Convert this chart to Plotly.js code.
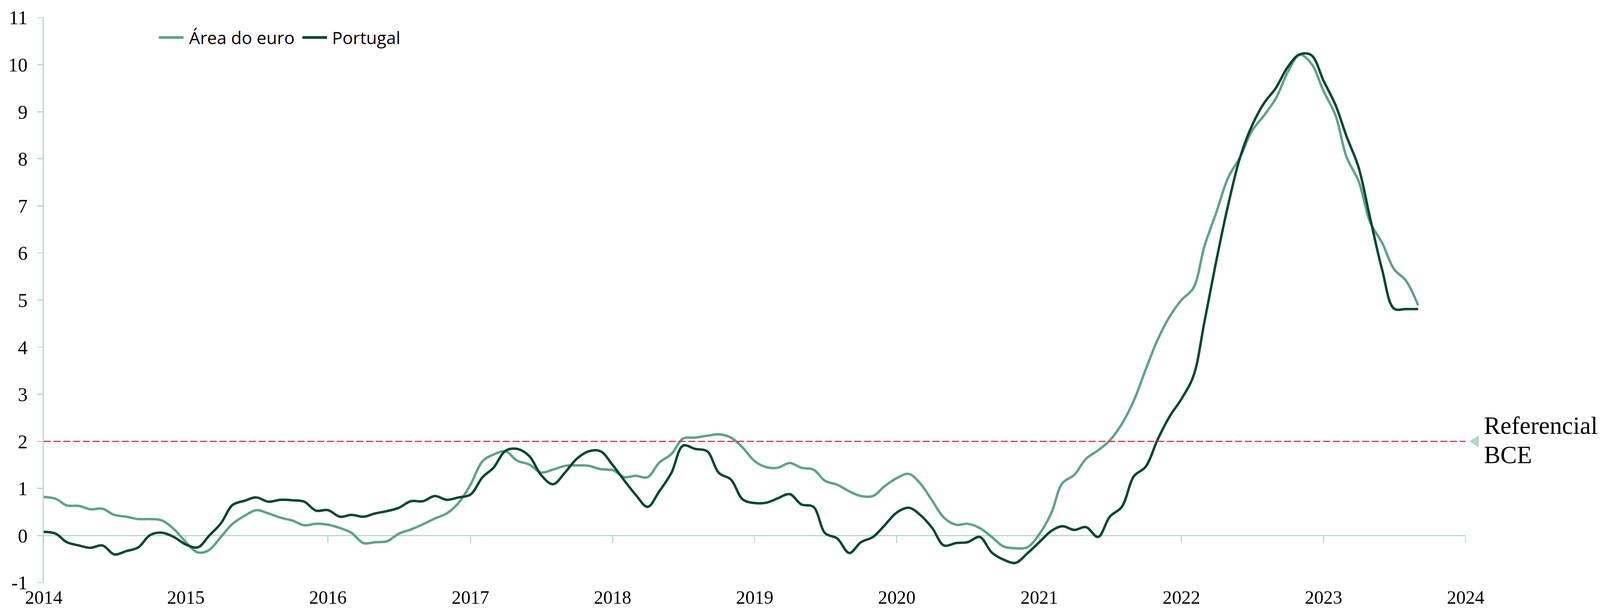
<!DOCTYPE html>
<html>
<head>
<meta charset="utf-8">
<script src="https://cdn.plot.ly/plotly-3.0.1.min.js"></script>
<style>
  html, body { margin: 0; padding: 0; background: #ffffff; overflow: hidden; }
  #chart { width: 100vw; height: 100vh; }
</style>
</head>
<body>
<div id="chart"></div>
<script>
// ---- data (monthly, Jan 2014 - Sep 2023) ----
const years = [2014, 2015, 2016, 2017, 2018, 2019, 2020, 2021, 2022, 2023];

const euroArea = [
  0.82, 0.78, 0.64, 0.63, 0.56, 0.57, 0.44, 0.40, 0.35, 0.35, 0.32, 0.14,   // 2014
  -0.14, -0.36, -0.31, -0.03, 0.25, 0.42, 0.54, 0.47, 0.38, 0.32, 0.22, 0.25, // 2015
  0.23, 0.16, 0.06, -0.16, -0.14, -0.12, 0.04, 0.13, 0.24, 0.36, 0.47, 0.69, // 2016
  1.08, 1.58, 1.72, 1.79, 1.59, 1.51, 1.34, 1.40, 1.48, 1.49, 1.48, 1.41,   // 2017
  1.39, 1.24, 1.27, 1.24, 1.55, 1.73, 2.06, 2.08, 2.12, 2.15, 2.08, 1.87,   // 2018
  1.58, 1.45, 1.44, 1.54, 1.44, 1.40, 1.16, 1.08, 0.94, 0.84, 0.84, 1.05,   // 2019
  1.22, 1.31, 1.11, 0.74, 0.38, 0.23, 0.25, 0.16, -0.03, -0.23, -0.27, -0.25, // 2020
  0.03, 0.48, 1.11, 1.29, 1.63, 1.81, 2.02, 2.37, 2.87, 3.52, 4.16, 4.64,   // 2021
  5.00, 5.26, 6.14, 6.87, 7.60, 8.04, 8.59, 8.92, 9.29, 9.84, 10.21, 10.02, // 2022
  9.44, 8.92, 8.04, 7.53, 6.65, 6.21, 5.66, 5.41, 4.89                      // 2023
];

const portugal = [
  0.08, 0.04, -0.14, -0.21, -0.26, -0.21, -0.40, -0.33, -0.25, 0.01, 0.06, -0.03, // 2014
  -0.19, -0.25, -0.01, 0.26, 0.65, 0.74, 0.81, 0.72, 0.76, 0.75, 0.72, 0.53,      // 2015
  0.54, 0.40, 0.44, 0.40, 0.47, 0.52, 0.59, 0.73, 0.73, 0.84, 0.76, 0.81,         // 2016
  0.87, 1.24, 1.44, 1.80, 1.84, 1.69, 1.29, 1.09, 1.34, 1.63, 1.79, 1.79,         // 2017
  1.50, 1.16, 0.87, 0.61, 0.94, 1.33, 1.91, 1.84, 1.79, 1.33, 1.19, 0.77,         // 2018
  0.69, 0.70, 0.79, 0.88, 0.66, 0.61, 0.05, -0.06, -0.37, -0.14, -0.03, 0.22,     // 2019
  0.49, 0.59, 0.44, 0.16, -0.21, -0.16, -0.14, -0.03, -0.36, -0.51, -0.58, -0.38, // 2020
  -0.14, 0.10, 0.20, 0.12, 0.18, -0.03, 0.40, 0.61, 1.26, 1.46, 2.04, 2.52,       // 2021
  2.90, 3.39, 4.53, 5.85, 7.02, 8.04, 8.70, 9.18, 9.51, 9.95, 10.22, 10.20,       // 2022
  9.66, 9.14, 8.48, 7.82, 6.73, 5.63, 4.82, 4.81, 4.81                            // 2023
];

const seriesNames = ['Área do euro', 'Portugal'];
const seriesColors = ['#5fa28a', '#05472f'];

const tickYears = ['2014', '2015', '2016', '2017', '2018', '2019', '2020', '2021', '2022', '2023', '2024'];
const tickDates = tickYears.map(y => y + '-01-01');
const yTickVals = [-1, 0, 1, 2, 3, 4, 5, 6, 7, 8, 9, 10, 11];
const yTickText = ['-1', '0', '1', '2', '3', '4', '5', '6', '7', '8', '9', '10', '11'];

const targetLabel = ['Referencial', 'BCE'];
const targetValue = 2;
const targetX = ['2014-01-01', '2024-01-01'];
const targetY = [targetValue, targetValue];

// monthly dates
const dates = [];
for (let i = 0; i < euroArea.length; i++) {
  const y = years[0] + Math.floor(i / 12);
  const m = (i % 12) + 1;
  dates.push(y + '-' + String(m).padStart(2, '0') + '-01');
}

// size to the actual window (design frame 4603 x 1562)
const W = window.innerWidth || 4603;
const H = window.innerHeight || 1562;
const sx = W / 4603, sy = H / 1562, sf = Math.min(sx, sy);

const axisColor = '#b7d8cc';
const serif = 'Liberation Serif, Times New Roman, serif';
const sans = 'Open Sans, Noto Sans, sans-serif';

// plot area in design frame
const L = 126, R = 387, T = 45, B = 70;
const plotW = 4603 - L - R, plotH = 1562 - T - B;
const px = v => (v - L) / plotW;          // design x -> paper x
const py = v => (1562 - B - v) / plotH;   // design y -> paper y

// legend layout (design frame)
const legendY = py(96);
const legendItems = [
  { line: [457, 528], text: 542 },
  { line: [870, 941], text: 953 }
];

const traces = [
  {
    x: dates, y: euroArea, name: seriesNames[0], type: 'scatter', mode: 'lines',
    line: { color: seriesColors[0], width: 7 * sf, shape: 'spline', smoothing: 1 },
    showlegend: false, xaxis: 'x', yaxis: 'y'
  },
  {
    x: dates, y: portugal, name: seriesNames[1], type: 'scatter', mode: 'lines',
    line: { color: seriesColors[1], width: 7 * sf, shape: 'spline', smoothing: 1 },
    showlegend: false, xaxis: 'x', yaxis: 'y'
  },
  {
    x: targetX, y: targetY, type: 'scatter', mode: 'lines', showlegend: false,
    hoverinfo: 'skip',
    line: { color: '#d42f58', width: 3.5 * sf, dash: Math.round(20 * sf) + 'px,' + Math.round(8 * sf) + 'px' },
    xaxis: 'x2', yaxis: 'y2'
  }
];

const shapes = [];
const annotations = [];
legendItems.forEach((it, i) => {
  shapes.push({
    type: 'line', xref: 'paper', yref: 'paper',
    x0: px(it.line[0]), x1: px(it.line[1]), y0: legendY, y1: legendY,
    line: { color: seriesColors[i], width: 8 * sf }
  });
  annotations.push({
    xref: 'paper', yref: 'paper', x: px(it.text), y: legendY,
    xanchor: 'left', yanchor: 'middle', showarrow: false,
    text: seriesNames[i],
    font: { family: sans, size: 50 * sf, color: '#000000' }
  });
});

// triangle pointer at the end of the reference line
const triH = 15 / 120.6;  // half height in y units
shapes.push({
  type: 'path', xref: 'paper', yref: 'y', layer: 'above',
  path: 'M ' + px(4226) + ',' + targetValue +
        ' L ' + px(4254) + ',' + (targetValue + triH) +
        ' L ' + px(4254) + ',' + (targetValue - triH) + ' Z',
  fillcolor: '#b5d6cb', line: { width: 0 }
});

annotations.push(
  {
    xref: 'paper', yref: 'y', x: px(4267), y: 2.33, xanchor: 'left', yanchor: 'middle',
    text: targetLabel[0], showarrow: false,
    font: { family: serif, size: 71 * sf, color: '#000000' }
  },
  {
    xref: 'paper', yref: 'y', x: px(4267), y: 1.71, xanchor: 'left', yanchor: 'middle',
    text: targetLabel[1], showarrow: false,
    font: { family: serif, size: 71 * sf, color: '#000000' }
  }
);

const layout = {
  width: W, height: H,
  paper_bgcolor: '#ffffff', plot_bgcolor: '#ffffff',
  margin: { l: L * sx, r: R * sx, t: T * sy, b: B * sy, pad: 0 },
  showlegend: false,
  xaxis: {
    type: 'date', range: ['2014-01-01', '2024-01-01'],
    tickvals: tickDates, ticktext: tickYears,
    showline: false, showgrid: false, zeroline: false, ticks: '',
    tickfont: { family: serif, size: 54 * sf, color: '#000000' },
    ticklabelstandoff: 5 * sy
  },
  xaxis2: {
    type: 'date', range: ['2014-01-01', '2024-01-01'], overlaying: 'x',
    anchor: 'free', position: 1 / 12, side: 'bottom',
    tickvals: tickDates, showticklabels: false,
    ticks: 'outside', ticklen: 17 * sy, tickwidth: 3 * sf, tickcolor: axisColor,
    showline: true, linecolor: axisColor, linewidth: 3 * sf,
    showgrid: false, zeroline: false, layer: 'below traces'
  },
  // labels only (transparent long ticks keep the labels clear of the axis)
  yaxis: {
    range: [-1, 11], tickvals: yTickVals, ticktext: yTickText,
    showline: false, ticks: 'outside', ticklen: 34 * sx, tickwidth: 1,
    tickcolor: 'rgba(0,0,0,0)',
    showgrid: false, zeroline: false,
    tickfont: { family: serif, size: 56 * sf, color: '#000000' }
  },
  // visible axis line and tick marks
  yaxis2: {
    range: [-1, 11], tickvals: yTickVals, overlaying: 'y', anchor: 'x', side: 'left',
    showticklabels: false,
    showline: true, linecolor: axisColor, linewidth: 3 * sf,
    ticks: 'outside', ticklen: 16 * sx, tickwidth: 3 * sf, tickcolor: axisColor,
    showgrid: false, zeroline: false, layer: 'below traces'
  },
  shapes: shapes,
  annotations: annotations
};

Plotly.newPlot('chart', traces, layout, { staticPlot: true, displayModeBar: false });
</script>
</body>
</html>
